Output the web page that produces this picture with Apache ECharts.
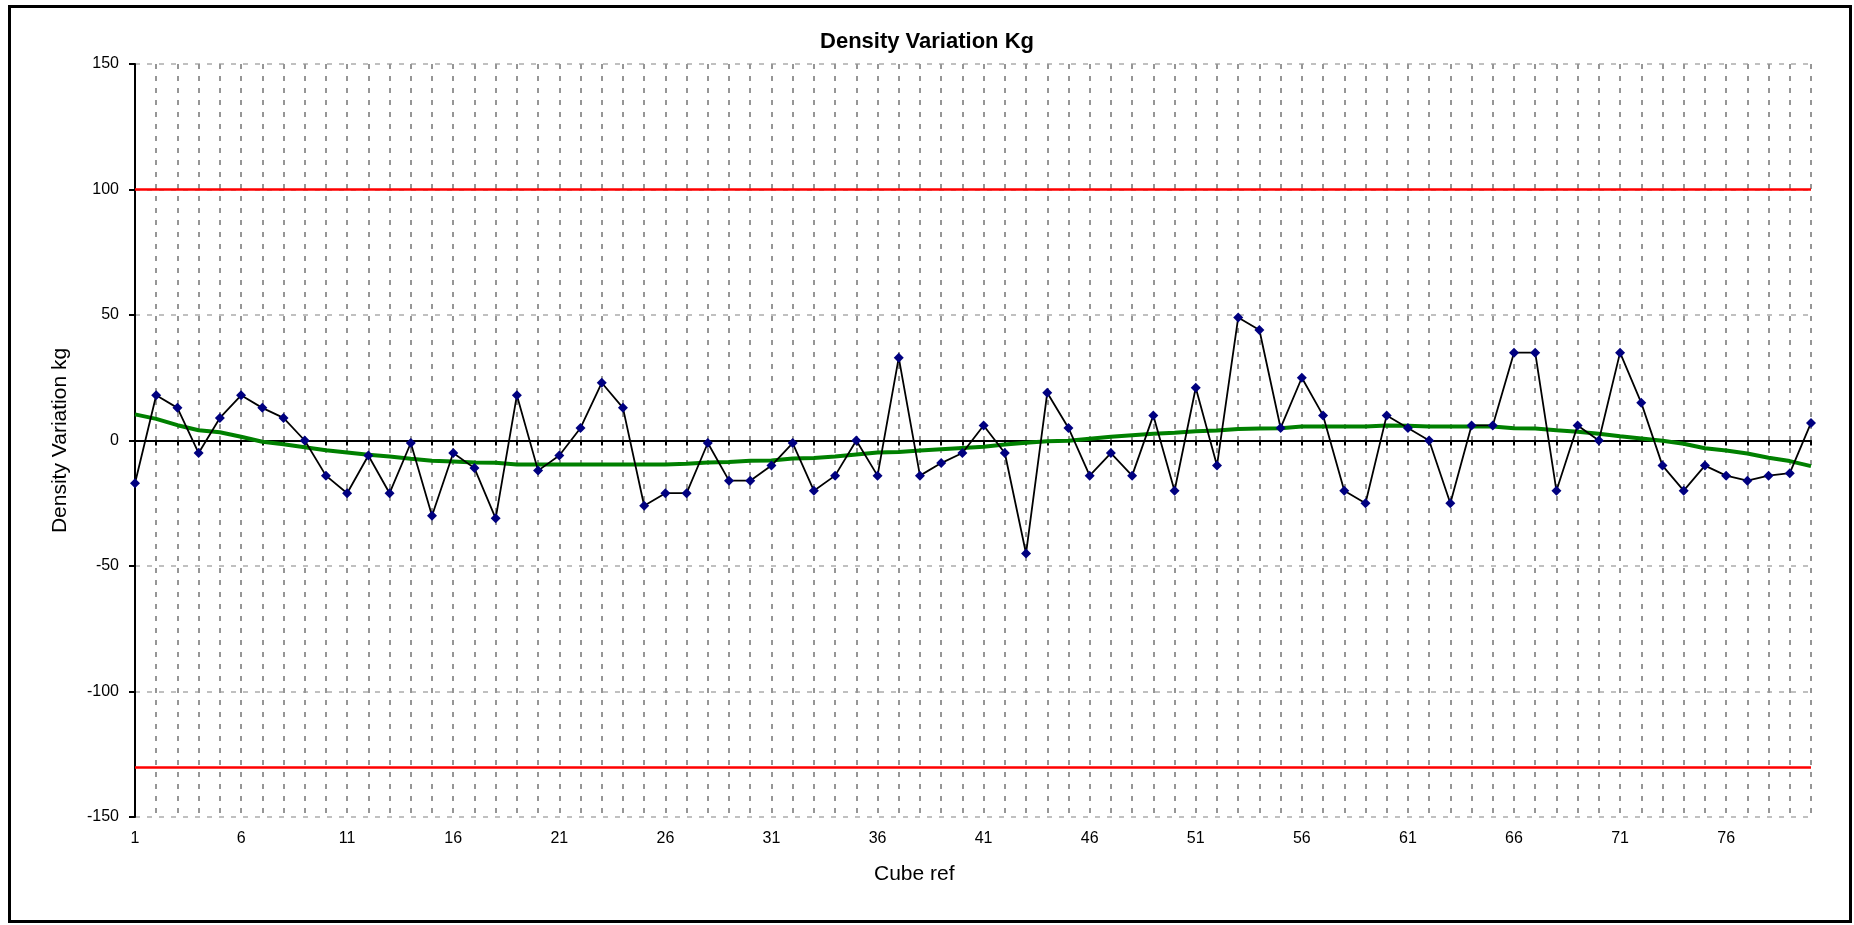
<!DOCTYPE html>
<html>
<head>
<meta charset="utf-8">
<title>Density Variation Kg</title>
<script src="https://cdn.jsdelivr.net/npm/echarts@6/dist/echarts.min.js"></script>
<style>
	html, body { margin: 0; padding: 0; background: #fff; }
	#main { width: 1854px; height: 925px; }
</style>
</head>
<body>
<div id="main"></div>
<script>
// cube numbers on the x axis
var cubeRefs = ['1', '2', '3', '4', '5', '6', '7', '8', '9', '10',
	'11', '12', '13', '14', '15', '16', '17', '18', '19', '20',
	'21', '22', '23', '24', '25', '26', '27', '28', '29', '30',
	'31', '32', '33', '34', '35', '36', '37', '38', '39', '40',
	'41', '42', '43', '44', '45', '46', '47', '48', '49', '50',
	'51', '52', '53', '54', '55', '56', '57', '58', '59', '60',
	'61', '62', '63', '64', '65', '66', '67', '68', '69', '70',
	'71', '72', '73', '74', '75', '76', '77', '78', '79', '80'];

// density variation per cube (kg)
var variation = [-17, 18, 13, -5, 9, 18, 13, 9, 0, -14,
	-21, -6, -21, -1, -30, -5, -11, -31, 18, -12,
	-6, 5, 23, 13, -26, -21, -21, -1, -16, -16,
	-10, -1, -20, -14, 0, -14, 33, -14, -9, -5,
	6, -5, -45, 19, 5, -14, -5, -14, 10, -20,
	21, -10, 49, 44, 5, 25, 10, -20, -25, 10,
	5, 0, -25, 6, 6, 35, 35, -20, 6, 0,
	35, 15, -10, -20, -10, -14, -16, -14, -13, 7];

// green trend line
var trend = [10.4, 8.6, 6.1, 4.1, 3.3, 1.5, -0.5, -1.5, -2.7, -3.9,
	-4.8, -5.7, -6.4, -7.3, -8.1, -8.4, -8.8, -8.9, -9.6, -9.6,
	-9.6, -9.6, -9.6, -9.6, -9.6, -9.6, -9.3, -8.8, -8.6, -8.1,
	-8.0, -7.2, -7.0, -6.4, -5.6, -4.8, -4.6, -4.0, -3.5, -3.0,
	-2.5, -1.6, -0.9, -0.3, -0.1, 0.7, 1.5, 2.1, 2.7, 3.1,
	3.7, 4.0, 4.6, 4.8, 4.9, 5.6, 5.6, 5.6, 5.6, 6.0,
	5.9, 5.6, 5.6, 5.6, 5.6, 4.9, 4.8, 4.1, 3.5, 2.7,
	1.7, 0.8, -0.1, -1.3, -3.1, -4.0, -5.2, -6.9, -8.2, -10.2];

// control limits (red lines)
var upperLimit = 100;
var lowerLimit = -130;

// y axis scale
var yMin = -150;
var yMax = 150;
var yStep = 50;

var font = 'Liberation Sans, Arial, sans-serif';

var myChart = echarts.init(document.getElementById('main'));

var option = {
	animation: false,
	backgroundColor: '#fff',
	textStyle: { fontFamily: font },
	title: [{
		text: 'Density Variation Kg',
		left: 'center',
		top: 26,
		textStyle: { fontFamily: font, fontSize: 22, fontWeight: 'bold', color: '#000' }
	}, {
		// x axis title sits a bit left of the plot centre, as in the original
		text: 'Cube ref',
		left: 874,
		top: 864,
		padding: 0,
		textStyle: { fontFamily: font, fontSize: 21, fontWeight: 'normal', color: '#000' }
	}],
	graphic: [{
		type: 'rect',
		silent: true,
		shape: { x: 9.5, y: 6.5, width: 1841, height: 915 },
		style: { fill: 'none', stroke: '#000', lineWidth: 3 }
	}],
	grid: {
		left: 135,
		right: 43,
		top: 64,
		bottom: 108,
		containLabel: false
	},
	xAxis: [{
		// axis line through zero, with a tick per cube
		type: 'category',
		data: cubeRefs,
		boundaryGap: false,
		axisLine: { onZero: true, lineStyle: { color: '#000', width: 2 } },
		axisTick: { show: true, interval: 0, length: 5, lineStyle: { color: '#000', width: 2 } },
		axisLabel: { show: false },
		splitLine: {
			show: true,
			interval: 0,
			lineStyle: { color: '#969696', width: 2, type: [5, 7] }
		}
	}, {
		// labels along the bottom
		type: 'category',
		data: cubeRefs,
		boundaryGap: false,
		position: 'bottom',
		axisLine: { show: false, onZero: false },
		axisTick: { show: false },
		axisLabel: { interval: 4, color: '#000', fontSize: 16, margin: 14, fontFamily: font },
		splitLine: { show: false }
	}],
	yAxis: {
		type: 'value',
		min: yMin,
		max: yMax,
		interval: yStep,
		name: 'Density Variation kg',
		nameLocation: 'middle',
		nameGap: 64,
		nameTextStyle: { fontSize: 21, color: '#000', fontFamily: font },
		axisLine: { show: true, lineStyle: { color: '#000', width: 2 } },
		axisTick: { show: true, length: 6, lineStyle: { color: '#000', width: 2 } },
		axisLabel: { color: '#000', fontSize: 16, margin: 16, fontFamily: font },
		splitLine: {
			show: true,
			lineStyle: { color: '#c0c0c0', width: 2, type: [5, 7] }
		}
	},
	series: [{
		name: 'Trend',
		type: 'line',
		data: trend,
		showSymbol: false,
		symbol: 'none',
		lineStyle: { color: '#008000', width: 4 },
		z: 3
	}, {
		name: 'Density Variation',
		type: 'line',
		data: variation,
		symbol: 'diamond',
		symbolSize: 10,
		itemStyle: { color: '#000080' },
		lineStyle: { color: '#000', width: 1.8 },
		z: 4,
		markLine: {
			silent: true,
			symbol: 'none',
			label: { show: false },
			lineStyle: { color: '#ff0000', width: 2.5, type: 'solid' },
			data: [{ yAxis: upperLimit }, { yAxis: lowerLimit }]
		}
	}]
};

myChart.setOption(option);
</script>
</body>
</html>
